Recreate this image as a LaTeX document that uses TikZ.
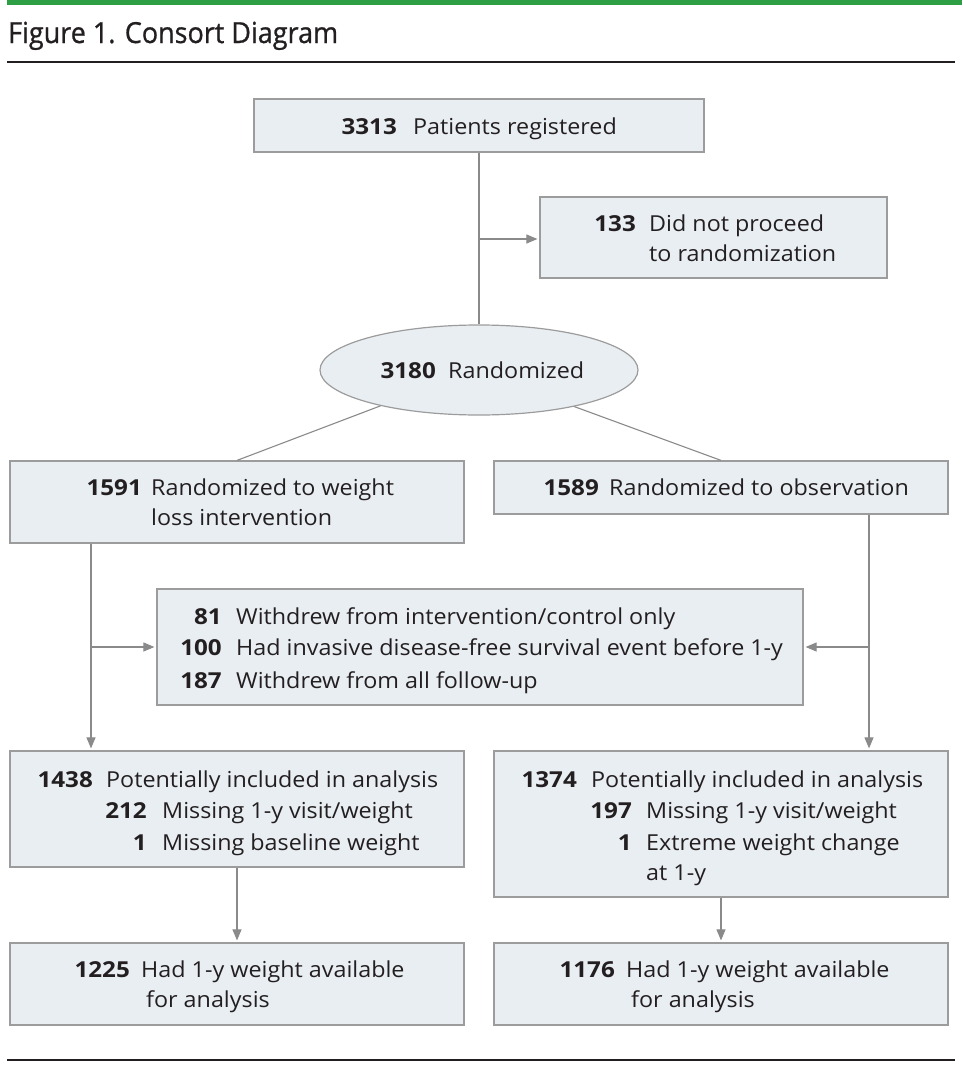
\documentclass[tikz,border=0pt]{standalone}
\usepackage{fontspec}
\setmainfont[FakeStretch=1.06,BoldFeatures={FakeStretch=1.1}]{Open Sans}
\newfontfamily\titlefont[FakeStretch=0.93,FakeBold=0.8]{Open Sans}
\usetikzlibrary{arrows.meta,shapes.geometric}
\definecolor{boxfill}{HTML}{E9EEF3}
\definecolor{boxdraw}{HTML}{9C9C9C}
\definecolor{linec}{HTML}{8A8A8A}
\definecolor{jgreen}{HTML}{2E9E44}
\definecolor{ink}{HTML}{231F20}
\begin{document}
\begin{tikzpicture}[x=1pt,y=-1pt,
  box/.style={draw=boxdraw, fill=boxfill, line width=1.2pt, inner sep=0pt, rectangle},
  num/.style={anchor=base east, inner sep=0pt, text=ink, font=\fontsize{22}{24}\selectfont\bfseries},
  txt/.style={anchor=base west, inner sep=0pt, text=ink, font=\fontsize{22}{24}\selectfont},
  conn/.style={draw=linec, line width=1.1pt},
  arr/.style={conn, -{Triangle[length=11pt,width=9pt]}, shorten >=2pt}]
\useasboundingbox (0,0) rectangle (962,1068);
% header
\fill[jgreen] (7,0) rectangle (962,4.7);
\node[anchor=base west, inner sep=0pt, text=ink, font=\titlefont\fontsize{29}{32}\selectfont] (title) at (8,43) {Figure 1. Consort Diagram};
\coordinate (rl) at (7,62); \coordinate (rr) at (955,62);
\draw[line width=2pt, ink] (rl) -- (rr);
\coordinate (bl) at (7,1060); \coordinate (br) at (955,1060);
\draw[line width=2pt, ink] (bl) -- (br);
% boxes
\node[box, minimum width=450pt, minimum height=53pt] (reg) at (479,125.5) {};
\node[box, minimum width=347pt, minimum height=81pt] (excl) at (713.5,237.5) {};
\node[box, ellipse, minimum width=318pt, minimum height=90pt] (rand) at (479,370) {};
\node[box, minimum width=454pt, minimum height=82pt] (armA) at (237,502) {};
\node[box, minimum width=454pt, minimum height=53pt] (armB) at (721,487.5) {};
\node[box, minimum width=646pt, minimum height=116pt] (mid) at (480,647) {};
\node[box, minimum width=454pt, minimum height=116pt] (anaA) at (237,809) {};
\node[box, minimum width=454pt, minimum height=146pt] (anaB) at (721,824) {};
\node[box, minimum width=454pt, minimum height=82pt] (finA) at (237,984) {};
\node[box, minimum width=454pt, minimum height=82pt] (finB) at (721,984) {};
% texts
\node[num] (t1n) at (397,134) {3313};
\node[txt] (t1t) at (413,134) {Patients registered};
\node[num] (t2n) at (636,231) {133};
\node[txt] (t2t) at (649,231) {Did not proceed};
\node[txt] (t2u) at (649,261) {to randomization};
\node[num] (t3n) at (436,378) {3180};
\node[txt] (t3t) at (448,378) {Randomized};
\node[num] (t4n) at (142,495) {1591};
\node[txt] (t4t) at (151,495) {Randomized to weight};
\node[txt] (t4u) at (151,525) {loss intervention};
\node[num] (t5n) at (599,495) {1589};
\node[txt] (t5t) at (609,495) {Randomized to observation};
\node[num] (t6n) at (222,624) {81};
\node[txt] (t6t) at (236,624) {Withdrew from intervention/control only};
\node[num] (t6m) at (222,655) {100};
\node[txt] (t6u) at (236,655) {Had invasive disease-free survival event before 1-y};
\node[num] (t6o) at (222,688) {187};
\node[txt] (t6v) at (236,688) {Withdrew from all follow-up};
\node[num] (t7n) at (93,787) {1438};
\node[txt] (t7t) at (106,787) {Potentially included in analysis};
\node[num] (t7m) at (147,818) {212};
\node[txt] (t7u) at (162,818) {Missing 1-y visit/weight};
\node[num] (t7o) at (147,850) {1};
\node[txt] (t7v) at (162,850) {Missing baseline weight};
\node[num] (t8n) at (577,787) {1374};
\node[txt] (t8t) at (591,787) {Potentially included in analysis};
\node[num] (t8m) at (632,818) {197};
\node[txt] (t8u) at (646,818) {Missing 1-y visit/weight};
\node[num] (t8o) at (632,850) {1};
\node[txt] (t8v) at (646,850) {Extreme weight change};
\node[txt] (t8w) at (646,880) {at 1-y};
\node[num] (t9n) at (130,977) {1225};
\node[txt] (t9t) at (141,977) {Had 1-y weight available};
\node[txt] (t9u) at (146,1007) {for analysis};
\node[num] (t10n) at (615,977) {1176};
\node[txt] (t10t) at (626,977) {Had 1-y weight available};
\node[txt] (t10u) at (631,1007) {for analysis};
% connectors
\draw[conn] (reg.south) -- (rand.north);
\coordinate (j1) at (479,239);
\draw[arr] (j1) -- (j1 -| excl.west);
\draw[conn] (rand.200.4) -- (armA.north);
\draw[conn] (rand.339.6) -- (armB.north);
\coordinate (lt) at (91,0);
\coordinate (rt) at (869,0);
\draw[arr] (armA.south -| lt) -- (anaA.north -| lt);
\draw[arr] (mid.west -| lt) -- (mid.west);
\draw[arr] (armB.south -| rt) -- (anaB.north -| rt);
\draw[arr] (mid.east -| rt) -- (mid.east);
\draw[arr] (anaA.south) -- (finA.north);
\draw[arr] (anaB.south) -- (finB.north);
\end{tikzpicture}
\end{document}
